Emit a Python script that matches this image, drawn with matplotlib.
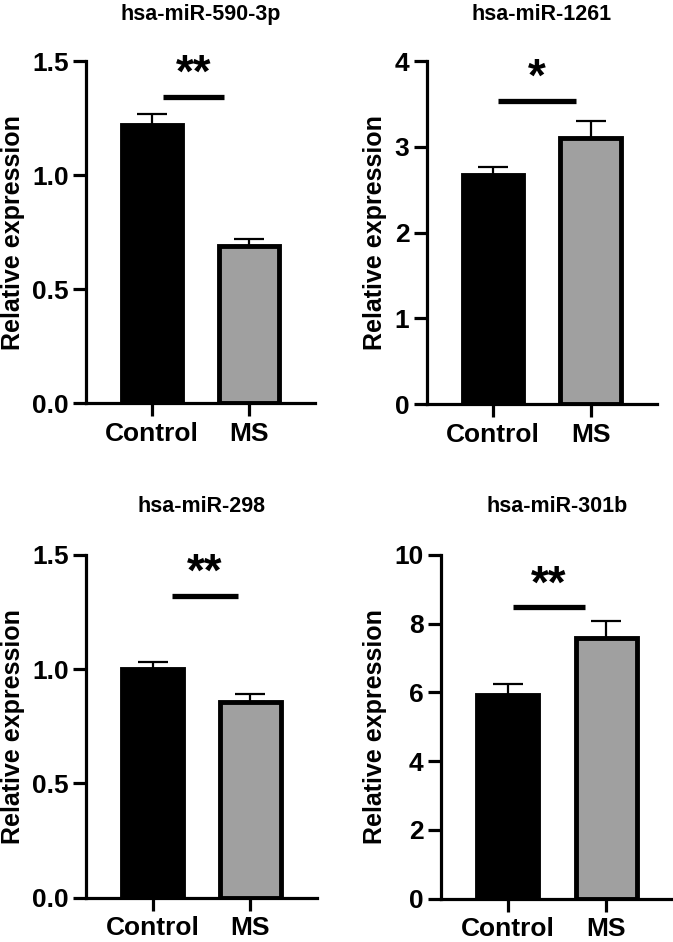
import matplotlib
matplotlib.use("Agg")
import matplotlib.pyplot as plt
import numpy as np

#--- データ ---#
groups   = ["Control", "MS"]
titles   = ["hsa-miR-590-3p", "hsa-miR-1261", "hsa-miR-298", "hsa-miR-301b"]
means    = [[1.22, 0.69], [2.67, 3.10], [1.00, 0.855], [5.93, 7.58]]
errors   = [[0.048, 0.03], [0.10, 0.20], [0.033, 0.035], [0.30, 0.50]]
sig_text = ["**", "*", "**", "**"]
sig_y    = [1.345, 3.54, 1.32, 8.47]
sig_span = [(0.11, 0.74), (0.05, 0.85), (0.20, 0.87), (0.05, 0.79)]
y_max    = [1.5, 4, 1.5, 10]
y_step   = [0.5, 1, 0.5, 2]
y_fmt    = ["{:.1f}", "{:.0f}", "{:.1f}", "{:.0f}"]

bar_colors = ["black", "#a0a0a0"]

#--- rcParams設定 ---#
plt.rcParams['font.family'] = ['Liberation Sans', 'DejaVu Sans']
plt.rcParams['font.weight'] = 'bold'
plt.rcParams['axes.labelweight'] = 'bold'

fig = plt.figure(figsize=(6.73, 9.42), dpi=100)

# 各パネルの位置 [left, bottom, width, height]
axes_pos = [
    [0.128, 0.572, 0.340, 0.363],
    [0.634, 0.571, 0.342, 0.364],
    [0.128, 0.047, 0.343, 0.364],
    [0.655, 0.046, 0.345, 0.365],
]
title_pad = [29.5, 29.5, 31, 31]

for i in range(4):
    ax = fig.add_axes(axes_pos[i])
    x = np.arange(len(groups))

    ax.bar(x, means[i], width=0.62, color=bar_colors,
           edgecolor="black", linewidth=3.5, zorder=2)
    ax.errorbar(x, means[i], yerr=[[0, 0], errors[i]], fmt="none",
                ecolor="black", elinewidth=1.6, capsize=11, capthick=1.6, zorder=1)

    # 有意差の表示
    x0, x1 = sig_span[i]
    ax.plot([x0, x1], [sig_y[i], sig_y[i]], color="black", linewidth=3.8,
            solid_capstyle="butt", clip_on=False)
    ax.annotate(sig_text[i], xy=((x0 + x1) / 2, sig_y[i]), xytext=(0, 0),
                textcoords="offset points", ha="center", va="bottom",
                fontsize=33, fontweight="bold")

    # 軸設定
    ax.set_xlim(-0.68, 1.68)
    ax.set_ylim(0, y_max[i])
    yt = np.arange(0, y_max[i] + y_step[i] / 2, y_step[i])
    ax.set_yticks(yt)
    ax.set_yticklabels([y_fmt[i].format(v) for v in yt])
    ax.set_xticks(x)
    ax.set_xticklabels(groups)

    for s in ["top", "right"]:
        ax.spines[s].set_visible(False)
    for s in ["left", "bottom"]:
        ax.spines[s].set_linewidth(2.3)

    ax.tick_params(axis="both", width=2.3, length=9.5, labelsize=19)
    ax.tick_params(axis="y", pad=3)
    ax.tick_params(axis="x", pad=4)

    ax.set_ylabel("Relative expression", fontsize=18, fontweight="bold", labelpad=5.5)
    ax.set_title(titles[i], fontsize=15.5, fontweight="bold", pad=title_pad[i])

fig.savefig("out.png", dpi=100)
